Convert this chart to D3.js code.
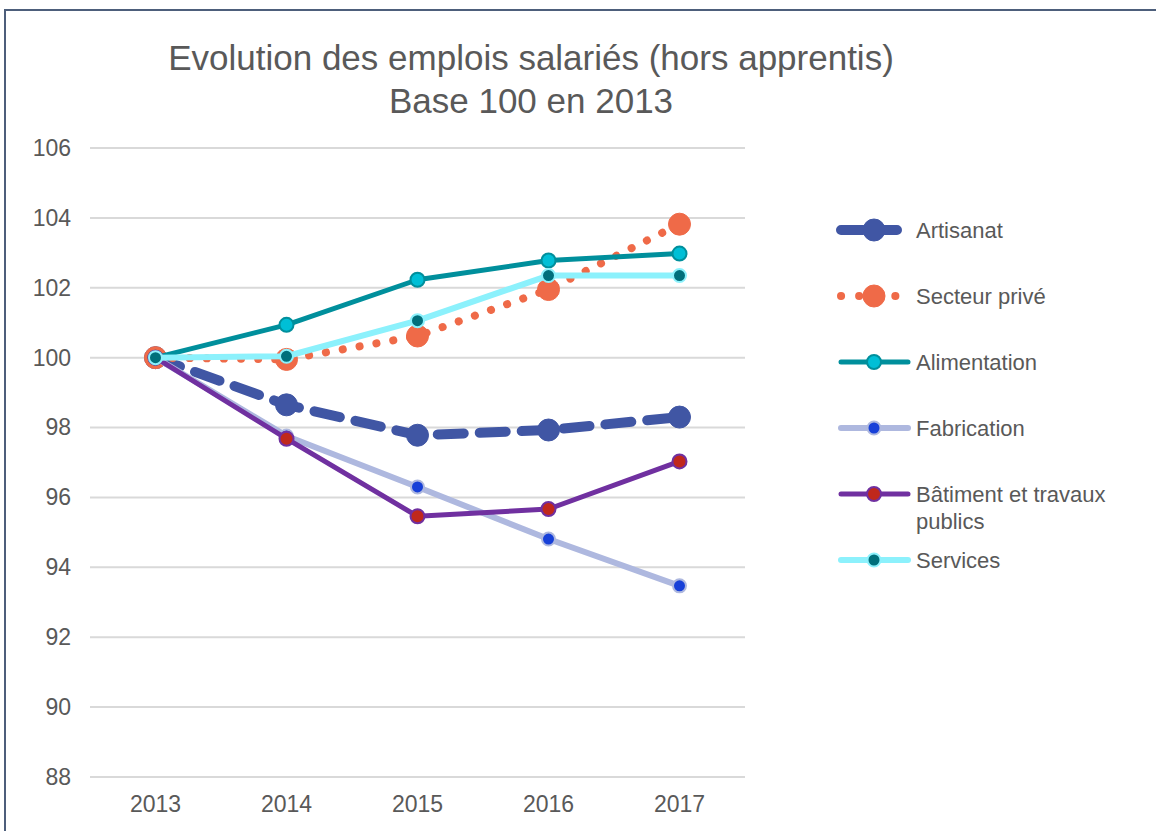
<!DOCTYPE html>
<html><head><meta charset="utf-8">
<script src="https://cdn.jsdelivr.net/npm/d3@7"></script>
<style>
body{margin:0;background:#fff;}
svg{display:block;font-family:"Liberation Sans",Arial,sans-serif;}
</style></head>
<body><svg id="c" width="1156" height="831"></svg>
<script>
const years = ["2013","2014","2015","2016","2017"];
const yTicks = [88,90,92,94,96,98,100,102,104,106];
const seriesNames = ["Artisanat","Secteur privé","Alimentation","Fabrication","Bâtiment et travaux publics","Services"];
const artisanat = [100, 98.65, 97.78, 97.93, 98.3];
const secteurPrive = [100, 99.95, 100.62, 101.95, 103.82];
const alimentation = [100, 100.94, 102.23, 102.78, 102.98];
const fabrication = [100, 97.76, 96.3, 94.81, 93.47];
const batiment = [100, 97.68, 95.46, 95.67, 97.03];
const services = [100, 100.04, 101.06, 102.35, 102.35];

const styles = [
 {line:"#4056a4", w:10, dash:"26 16", cap:"round", mfill:"#4056a4", mstroke:"#4056a4", r:11, mw:1},
 {line:"#ef6a48", w:8, dash:"0.1 17", cap:"round", mfill:"#ef6a48", mstroke:"#ef6a48", r:11, mw:1},
 {line:"#008f9c", w:5, dash:null, cap:"round", mfill:"#00bfd6", mstroke:"#008f9c", r:7, mw:2},
 {line:"#aeb8df", w:6, dash:null, cap:"round", mfill:"#1740d8", mstroke:"#aeb8df", r:6.5, mw:2},
 {line:"#7030a0", w:5, dash:null, cap:"round", mfill:"#c0281c", mstroke:"#7030a0", r:7, mw:2},
 {line:"#8cf1fc", w:6, dash:null, cap:"round", mfill:"#006f7b", mstroke:"#8cf1fc", r:6.5, mw:2}
];
const data = [artisanat, secteurPrive, alimentation, fabrication, batiment, services];

const svg = d3.select("#c");
svg.append("path").attr("d","M5,831 L5,10 L1156,10").attr("fill","none").attr("stroke","#4d5e7b").attr("stroke-width",2);

const x = d3.scaleBand().domain(years).range([90,745]);
const y = d3.scaleLinear().domain([88,106]).range([777,148]);
const cx = d => x(d)+x.bandwidth()/2;

svg.append("g").selectAll("line").data(yTicks).join("line")
 .attr("x1",90).attr("x2",745).attr("y1",d=>y(d)).attr("y2",d=>y(d))
 .attr("stroke","#d9d9d9").attr("stroke-width",2);

const ya = svg.append("g").attr("transform","translate(71,0)")
 .call(d3.axisLeft(y).tickValues(yTicks).tickSize(0).tickPadding(0));
ya.select(".domain").remove();
ya.selectAll("text").attr("font-size",23).attr("fill","#595959").attr("font-family","Liberation Sans, Arial, sans-serif");

const xa = svg.append("g").attr("transform","translate(0,790)")
 .call(d3.axisBottom(x).tickSize(0).tickPadding(6));
xa.select(".domain").remove();
xa.selectAll("text").attr("font-size",23).attr("fill","#595959").attr("font-family","Liberation Sans, Arial, sans-serif");

const t = svg.append("text").attr("text-anchor","middle").attr("fill","#595959").attr("font-size",35);
t.append("tspan").attr("x",531).attr("y",70).text("Evolution des emplois salariés (hors apprentis)");
t.append("tspan").attr("x",531).attr("y",113).text("Base 100 en 2013");

const line = d3.line().x((d,i)=>cx(years[i])).y(d=>y(d));

data.forEach((vals,k)=>{
  const s = styles[k];
  const g = svg.append("g");
  const p = g.append("path").datum(vals).attr("d",line).attr("fill","none")
    .attr("stroke",s.line).attr("stroke-width",s.w).attr("stroke-linecap",s.cap).attr("stroke-linejoin","round");
  if(s.dash) p.attr("stroke-dasharray",s.dash);
  g.selectAll("circle").data(vals).join("circle")
    .attr("cx",(d,i)=>cx(years[i])).attr("cy",d=>y(d)).attr("r",s.r)
    .attr("fill",s.mfill).attr("stroke",s.mstroke).attr("stroke-width",s.mw);
});

const legY = [230,296,362,428,494,560];
const lg = svg.append("g");
seriesNames.forEach((n,k)=>{
  const s = styles[k];
  const g = lg.append("g").attr("transform",`translate(0,${legY[k]})`);
  const l = g.append("line").attr("x1",841).attr("x2",908).attr("y1",0).attr("y2",0)
    .attr("stroke",s.line).attr("stroke-width",s.w).attr("stroke-linecap","round");
  if(k===0) l.attr("stroke-dasharray","22 12").attr("x2",900);
  if(k===1) l.attr("stroke-dasharray","0.1 18").attr("x1",841).attr("x2",896);
  g.append("circle").attr("cx",874).attr("cy",0).attr("r",s.r).attr("fill",s.mfill).attr("stroke",s.mstroke).attr("stroke-width",s.mw);
  const tx = g.append("text").attr("x",916).attr("y",8).attr("font-size",22).attr("fill","#595959");
  if(k===4){
    tx.append("tspan").attr("x",916).attr("dy",0).text("Bâtiment et travaux");
    tx.append("tspan").attr("x",916).attr("dy",27).text("publics");
  } else tx.text(n);
});
</script></body></html>
